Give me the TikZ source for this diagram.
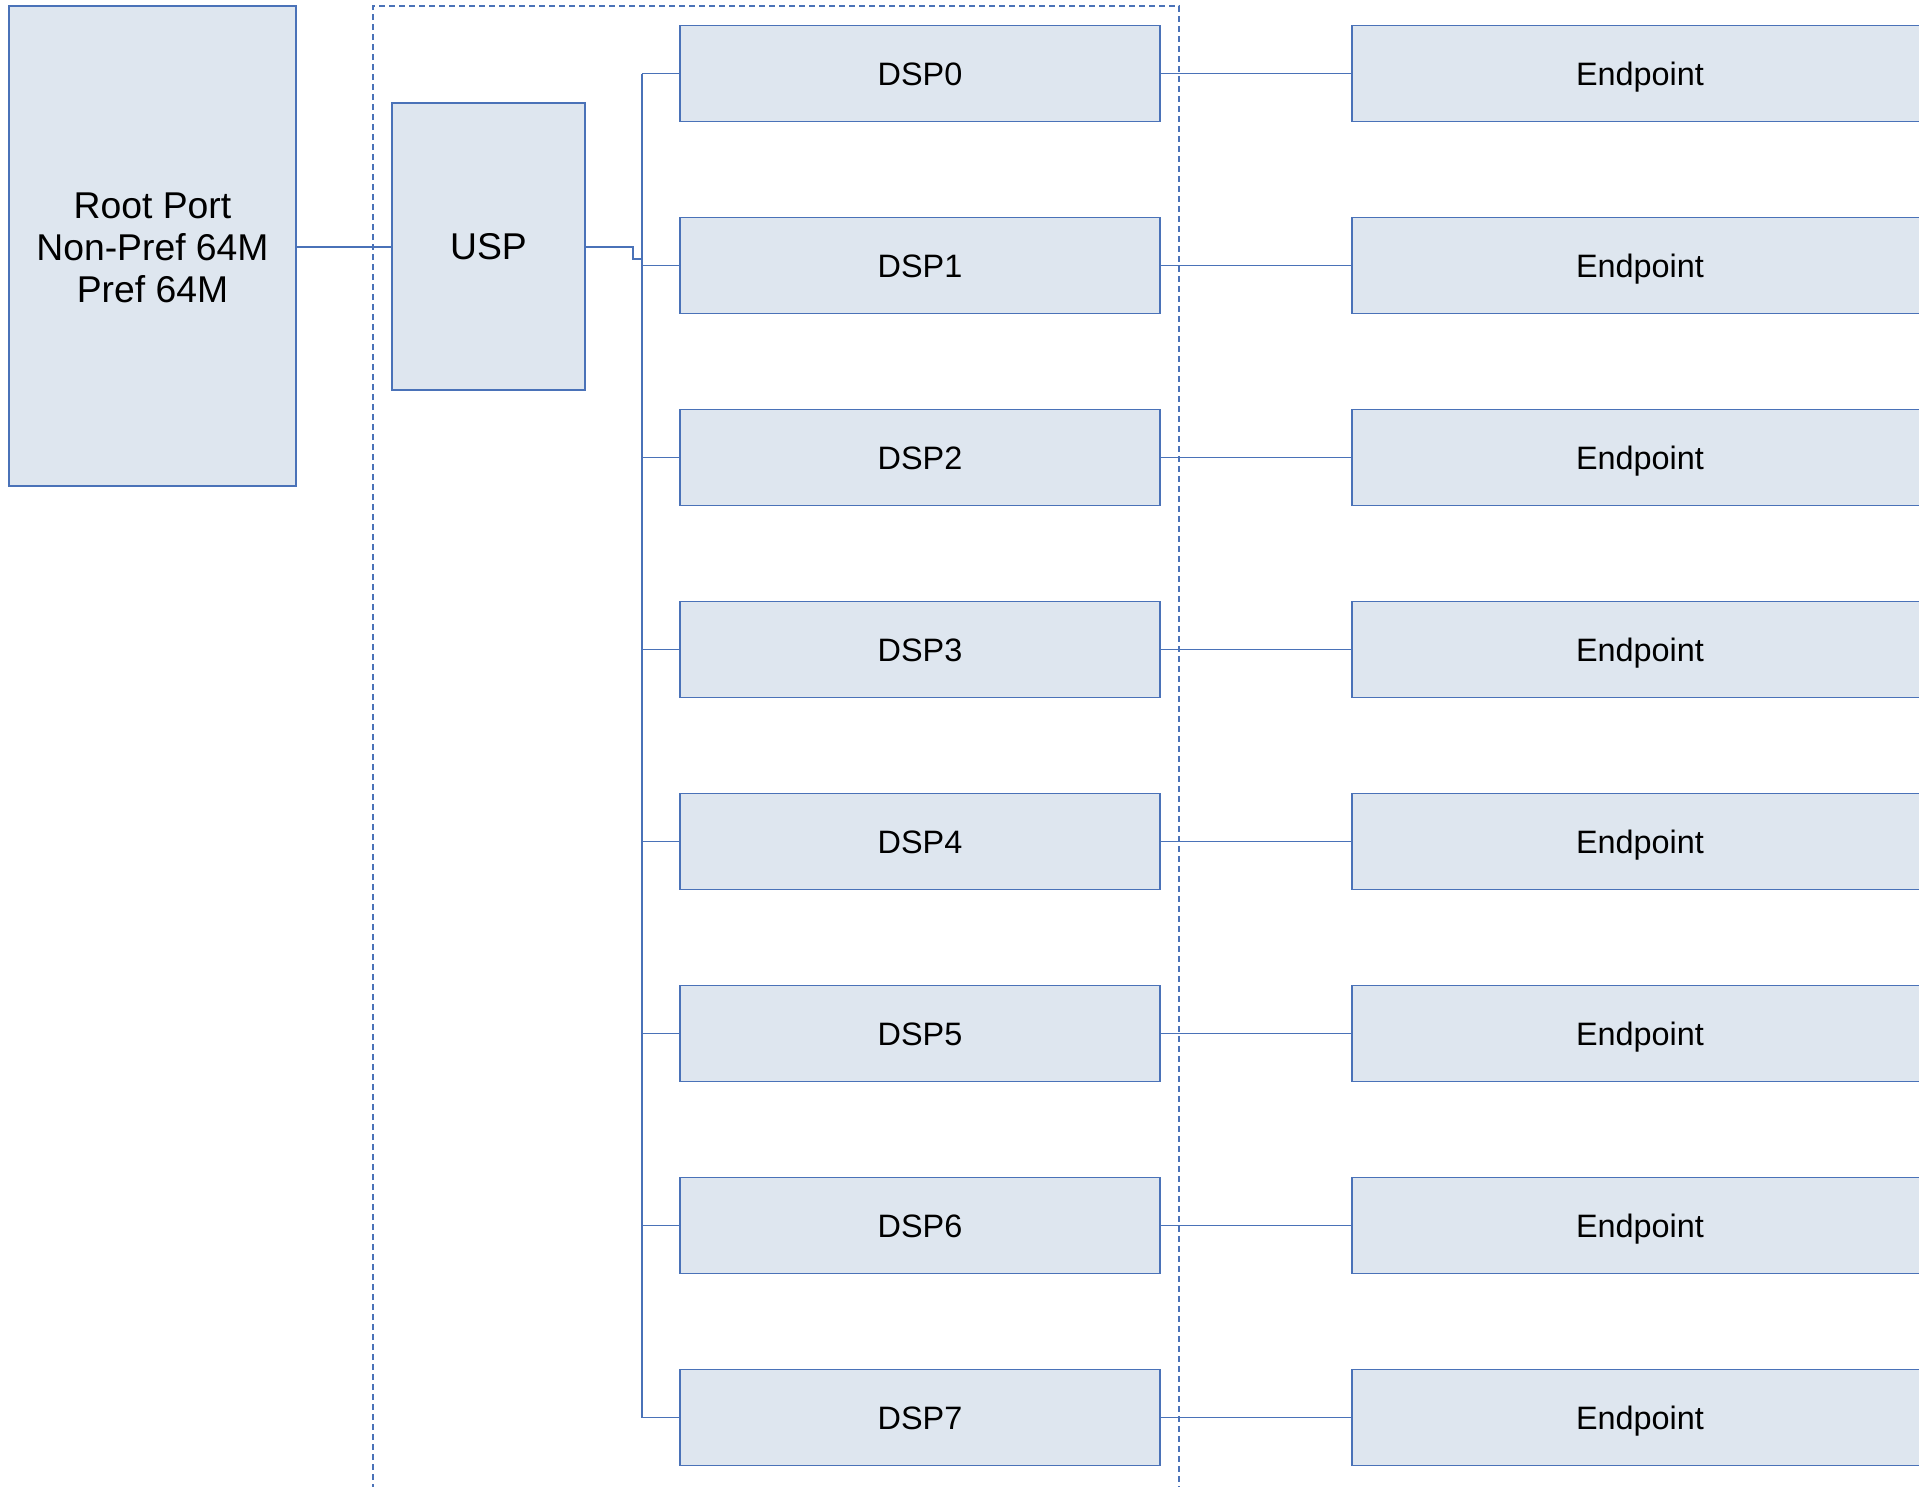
\documentclass[tikz,border=0pt]{standalone}
\usepackage{fontspec}
\setmainfont{Liberation Sans}
\definecolor{boxfill}{HTML}{DEE6EF}
\definecolor{boxline}{HTML}{4A72B8}
\begin{document}
\begin{tikzpicture}[x=1pt,y=-1pt,
  blk/.style={draw=boxline, fill=boxfill, line width=1.4pt, rectangle, inner sep=0pt, text=black},
  small/.style={font=\fontsize{32.4}{36}\selectfont, text height=23.2pt, text depth=0pt},
  large/.style={font=\fontsize{37.3}{42}\selectfont, text height=26.7pt, text depth=0pt},
  wire/.style={draw=boxline, line width=1.4pt},
  grp/.style={draw=boxline, line width=2.8pt, dash pattern=on 6pt off 4pt}]
\useasboundingbox (0,0) rectangle (1919,1486);
\clip (0,0) rectangle (1919,1486);
\node[blk, minimum width=287pt, minimum height=480pt, align=center, font=\fontsize{37.3}{42}\selectfont] (root) at (152.5,246) {\rule{0pt}{30pt}Root Port\\Non-Pref 64M\\Pref 64M};
\node[blk, large, minimum width=193pt, minimum height=287pt] (usp) at (488.5,246.5) {USP};
\foreach \i in {0,...,7}{
  \node[blk, small, minimum width=480pt, minimum height=96pt] (dsp\i) at (920,73.5+192*\i) {DSP\i};
  \node[blk, small, minimum width=576pt, minimum height=96pt] (ep\i) at (1640,73.5+192*\i) {Endpoint};
  \draw[wire] (dsp\i.east) -- (ep\i.west);
}
\coordinate (bus) at (642,0);
\coordinate (jog1) at (633,247);
\coordinate (jog2) at (633,259);
\coordinate (jog3) at (642,259);
\draw[wire] (root.east |- 0,247) -- (usp.west |- 0,247);
\draw[wire] (usp.east |- jog1) -- (jog1) -- (jog2) -- (jog3);
\draw[wire] (dsp0.west -| bus) -- (dsp7.west -| bus);
\foreach \i in {0,...,7}{
  \draw[wire] (dsp\i.west -| bus) -- (dsp\i.west);
}
\coordinate (gbl) at (373,1490);
\coordinate (gtl) at (373,6);
\coordinate (gtr) at (1179,6);
\coordinate (gbr) at (1179,1490);
\draw[grp] (gbl) -- (gtl) -- (gtr) -- (gbr);
\end{tikzpicture}
\end{document}
